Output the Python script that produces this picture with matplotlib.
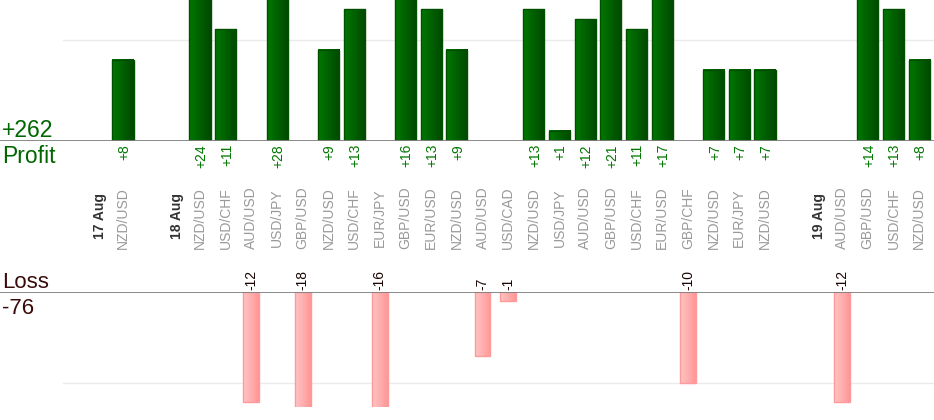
import numpy as np
import matplotlib.pyplot as plt
import matplotlib.transforms as mtransforms
from matplotlib.colors import LinearSegmentedColormap

plt.rcParams['font.family'] = ['Liberation Sans', 'DejaVu Sans']

labels = ['17 Aug', 'NZD/USD', '', '18 Aug', 'NZD/USD', 'USD/CHF', 'AUD/USD', 'USD/JPY',
          'GBP/USD', 'NZD/USD', 'USD/CHF', 'EUR/JPY', 'GBP/USD', 'EUR/USD', 'NZD/USD',
          'AUD/USD', 'USD/CAD', 'NZD/USD', 'USD/JPY', 'AUD/USD', 'GBP/USD', 'USD/CHF',
          'EUR/USD', 'GBP/CHF', 'NZD/USD', 'EUR/JPY', 'NZD/USD', '', '19 Aug',
          'AUD/USD', 'GBP/USD', 'USD/CHF', 'NZD/USD']
nan = np.nan
profit = [nan, 8, nan, nan, 24, 11, nan, 28, nan, 9, 13, nan, 16, 13, 9, nan, nan,
          13, 1, 12, 21, 11, 17, nan, 7, 7, 7, nan, nan, nan, 14, 13, 8]
loss = [nan, nan, nan, nan, nan, nan, -12, nan, -18, nan, nan, -16, nan, nan, nan, -7, -1,
        nan, nan, nan, nan, nan, nan, -10, nan, nan, nan, nan, nan, -12, nan, nan, nan]

W, H = 934, 420
fig = plt.figure(figsize=(W / 100, H / 100), dpi=100)

x = np.arange(len(labels))
slot = 25.68
x0 = 97.3
xlim = (-x0 / slot, (W - x0) / slot)

def fy(py):
    return 1 - py / H

ax_p = fig.add_axes([0, fy(141), 1, 141 / H])
ax_l = fig.add_axes([0, fy(407), 1, (407 - 292) / H])
ylim_p = (0, 13.9)
ylim_l = (-12.6, 0)

for ax in (ax_p, ax_l):
    ax.axis('off')
    ax.axhline(0, color='#808080', lw=1.3, zorder=5)

ax_p.axhline(10, xmin=63 / W, color='#ebebeb', lw=1, zorder=0)
ax_l.axhline(-10, xmin=63 / W, color='#ebebeb', lw=1, zorder=0)

green = LinearSegmentedColormap.from_list('g', ['#007800', '#004800'])
pink = LinearSegmentedColormap.from_list('p', ['#ffc6c6', '#ff9696'])
grad = np.linspace(0, 1, 64).reshape(1, -1)

def gradient_bars(ax, vals, width, cmap, edge, ylim):
    bars = ax.bar(x, vals, width=width, color='none', edgecolor=edge, lw=1, zorder=3)
    for b in bars:
        if np.isnan(b.get_height()):
            continue
        bx, bw = b.get_x(), b.get_width()
        y1, y2 = sorted((b.get_y(), b.get_y() + b.get_height()))
        y1, y2 = max(y1, ylim[0]), min(y2, ylim[1])
        ax.imshow(grad, cmap=cmap, aspect='auto', zorder=2,
                  extent=(bx, bx + bw, y1, y2), interpolation='bilinear')
    ax.set_xlim(*xlim)
    ax.set_ylim(*ylim)

gradient_bars(ax_p, profit, 0.82, green, '#005000', ylim_p)
gradient_bars(ax_l, loss, 0.62, pink, '#ff9a9a', ylim_l)

tp = mtransforms.blended_transform_factory(ax_p.transData, fig.transFigure)

for i, lab in enumerate(labels):
    if not lab:
        continue
    if 'Aug' in lab:
        fig.text(x[i] + 0.1, fy(216), lab, transform=tp, rotation=90, ha='center', va='center',
                 fontsize=10, fontweight='bold', color='#333333')
    else:
        fig.text(x[i], fy(218), lab, transform=tp, rotation=90, ha='center', va='center',
                 fontsize=10, color='#999999')

for i, v in enumerate(profit):
    if not np.isnan(v):
        fig.text(x[i] + 0.05, fy(144), f'+{v:g}', transform=tp, rotation=90, ha='center',
                 va='top', fontsize=10, color='#007700')
for i, v in enumerate(loss):
    if not np.isnan(v):
        fig.text(x[i], fy(290), f'{v:g}', transform=tp, rotation=90, ha='center',
                 va='bottom', fontsize=10, color='#1a0505')

total_p = np.nansum(profit)
total_l = np.nansum(loss)
fig.text(2 / W, fy(137), f'+{total_p:g}', fontsize=16.5, color='#006600', va='baseline')
fig.text(2 / W, fy(163), 'Profit', fontsize=16.5, color='#006600', va='baseline')
fig.text(2 / W, fy(288), 'Loss', fontsize=16, color='#3a0a0a', va='baseline')
fig.text(2 / W, fy(314), f'{total_l:g}', fontsize=16, color='#3a0a0a', va='baseline')

fig.savefig('out.png', dpi=100)
